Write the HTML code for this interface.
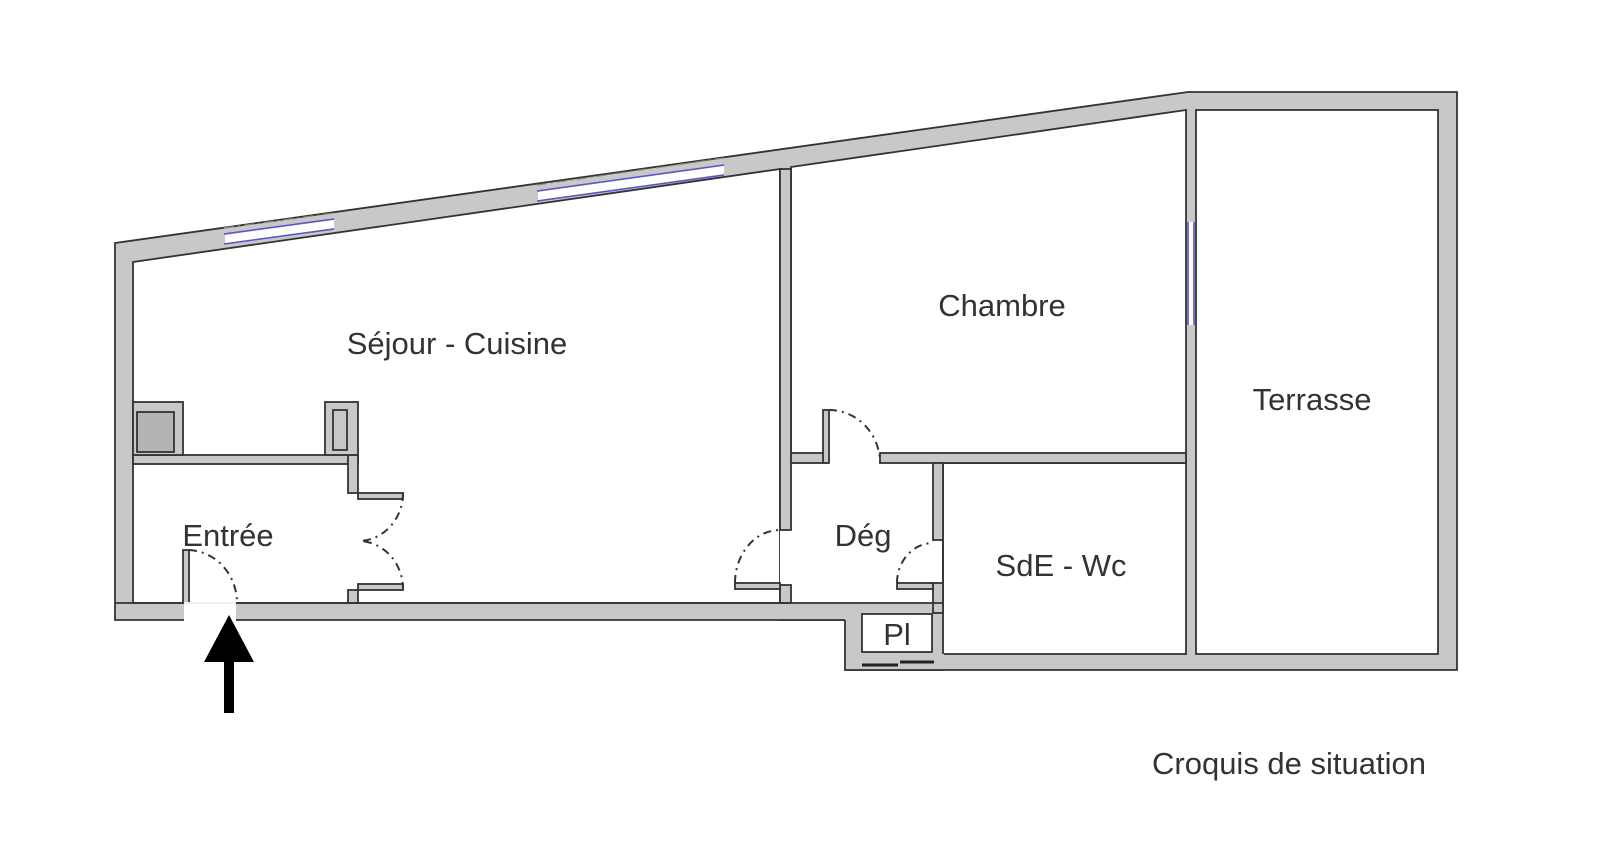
<!DOCTYPE html>
<html><head><meta charset="utf-8"><style>
html,body{margin:0;padding:0;background:#fff;}
svg{display:block;}
text{font-family:"Liberation Sans",sans-serif;fill:#333;}
</style></head><body>
<svg width="1600" height="868" viewBox="0 0 1600 868">
<g stroke="#333" stroke-width="1.8">
<polygon points="115,243 1188,92 1457,92 1457,670 845,670 845,620 115,620" fill="#c8c8c8"/>
<!-- rooms -->
<polygon points="133,262 780,169 780,603 133,603" fill="#fff"/>
<polygon points="791,167 1186,110 1186,463 791,463" fill="#fff"/>
<rect x="780" y="453" width="163" height="150" fill="#fff" stroke="none"/>
<rect x="943" y="463" width="243" height="191" fill="#fff"/>
<rect x="1196" y="110" width="242" height="544" fill="#fff"/>
</g>
<rect x="780" y="603.5" width="164" height="16" fill="#c8c8c8"/>
<rect x="844" y="603.5" width="100" height="66" fill="#c8c8c8"/>
<line x1="845" y1="620" x2="845" y2="670" stroke="#333" stroke-width="1.8"/>
<line x1="845" y1="670" x2="944" y2="670" stroke="#333" stroke-width="1.8"/>
<line x1="780" y1="620" x2="845" y2="620" stroke="#333" stroke-width="1.8"/>
<line x1="943" y1="463" x2="943" y2="654" stroke="#333" stroke-width="1.8"/>
<g stroke="#333" stroke-width="1.8">
<g fill="#c8c8c8">
<rect x="133" y="455" width="225" height="9"/>
<rect x="348" y="455" width="10" height="38"/>
<rect x="348" y="590" width="10" height="13"/>
<rect x="133" y="402" width="50" height="53"/>
<rect x="325" y="402" width="33" height="53"/>
<rect x="780" y="169" width="11" height="361"/>
<rect x="780" y="585" width="11" height="18"/>
<rect x="791" y="453" width="35" height="10"/>
<rect x="880" y="453" width="306" height="10"/>
<rect x="933" y="463" width="10" height="77"/>
<rect x="933" y="583" width="10" height="30"/>
<rect x="862" y="614" width="70" height="38" fill="#fff"/>
<rect x="823" y="410" width="6" height="53"/>
<rect x="183" y="550" width="6" height="53"/>
<rect x="358" y="493" width="45" height="6"/>
<rect x="358" y="584" width="45" height="6"/>
<rect x="735" y="583" width="45" height="6"/>
<rect x="897" y="583" width="36" height="6"/>
</g>
<rect x="137" y="412" width="37" height="40" fill="#b4b4b4"/>
<rect x="333" y="410" width="14" height="40" fill="#c8c8c8"/>
</g>
<line x1="115" y1="603" x2="944" y2="603" stroke="#333" stroke-width="1.8"/>
<rect x="184" y="602" width="52" height="20" fill="#fff"/>
<line x1="184" y1="603" x2="236" y2="603" stroke="#ddd" stroke-width="1"/>
<!-- windows -->
<g stroke="#5555cc" stroke-width="1.5">
<line x1="224" y1="234" x2="334" y2="219"/><line x1="224" y1="244" x2="334" y2="229"/>
<line x1="537" y1="191" x2="724" y2="165"/><line x1="537" y1="201" x2="724" y2="175"/>
<line x1="1188" y1="222" x2="1188" y2="325"/><line x1="1194" y1="222" x2="1194" y2="325"/>
</g>
<g fill="#fff" stroke="none">
<polygon points="225,235 334,220 334,228 225,243"/>
<polygon points="538,192 724,166 724,174 538,200"/>
<rect x="1189" y="222" width="4" height="103"/>
</g>
<g stroke="#888" stroke-width="1.2" stroke-dasharray="10,4,2,4" fill="none">
<line x1="224" y1="228" x2="334" y2="213"/>
<line x1="537" y1="185" x2="724" y2="158"/>
</g>
<!-- door arcs -->
<g stroke="#333" stroke-width="2" stroke-dasharray="8,5,2,5" fill="none">
<path d="M189,550 A50,53 0 0 1 237,603"/>
<path d="M403,493 A45,48 0 0 1 360,541"/>
<path d="M403,590 A45,48 0 0 0 360,541"/>
<path d="M735,583 A45,53 0 0 1 780,530"/>
<path d="M897,583 A36,40 0 0 1 933,543"/>
<path d="M829,410 A51,53 0 0 1 880,463"/>
</g>
<line x1="862" y1="665" x2="898" y2="665" stroke="#222" stroke-width="3"/>
<line x1="900" y1="662" x2="934" y2="662" stroke="#222" stroke-width="3"/>
<!-- arrow -->
<polygon points="204,662 254,662 229,615" fill="#000"/>
<rect x="224" y="658" width="10" height="55" fill="#000"/>
<!-- labels -->
<g font-size="31" text-anchor="middle">
<text x="457" y="354">Séjour - Cuisine</text>
<text x="1002" y="316">Chambre</text>
<text x="1312" y="410">Terrasse</text>
<text x="228" y="546">Entrée</text>
<text x="863" y="546">Dég</text>
<text x="1061" y="576">SdE - Wc</text>
<text x="897" y="645">Pl</text>
<text x="1289" y="774" fill="#222">Croquis de situation</text>
</g>
</svg>
</body></html>
